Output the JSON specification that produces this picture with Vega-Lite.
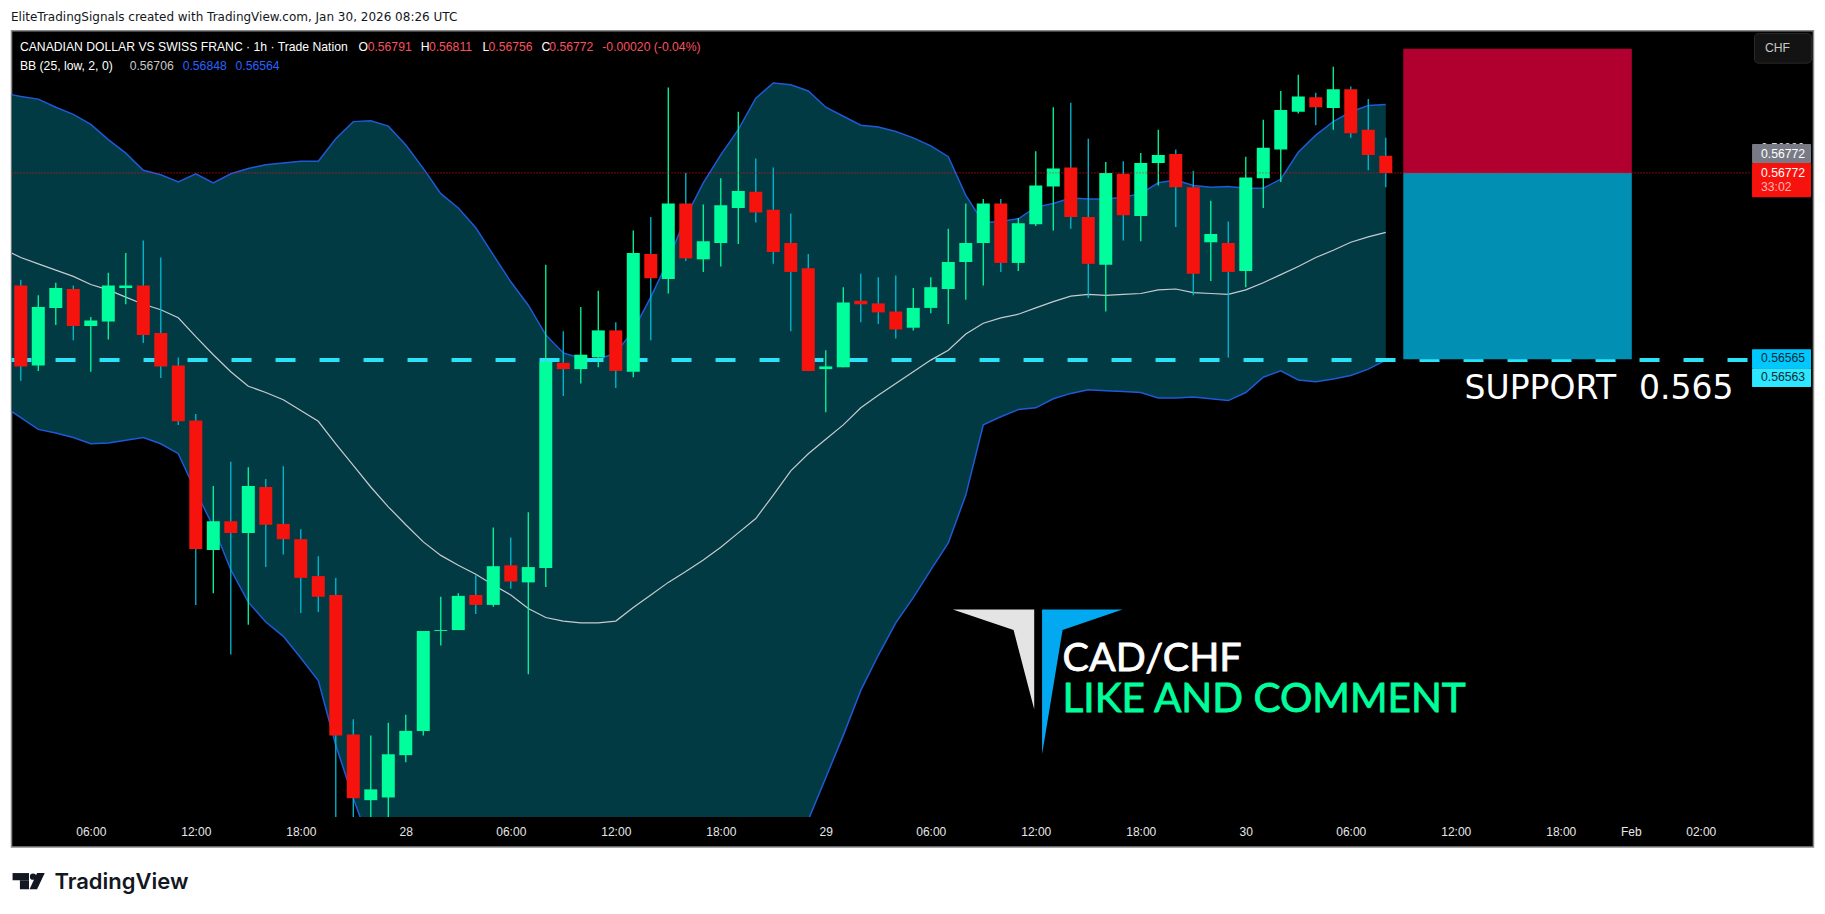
{
  "$schema": "https://vega.github.io/schema/vega-lite/v6.json",
  "autosize": "none",
  "width": 1739.5,
  "height": 786,
  "padding": {"left": 11.5, "top": 31, "right": 74, "bottom": 97},
  "background": "#ffffff",
  "config": {"view": {"stroke": null}},
  "datasets": {
    "frame": [{"t": -4.53, "t2": 98.44, "p": 0.5693, "p2": 0.56023}],
    "hiddenTick": [{"t": 95.44, "p": 0.568, "text": "0.56800"}],
    "candles": [
      {"t":-4,"o":0.56647,"h":0.56653,"l":0.56541,"c":0.56557},
      {"t":-3,"o":0.56558,"h":0.56636,"l":0.56552,"c":0.56623},
      {"t":-2,"o":0.56622,"h":0.5665,"l":0.56603,"c":0.56644},
      {"t":-1,"o":0.56643,"h":0.56647,"l":0.56586,"c":0.56602},
      {"t":0,"o":0.56602,"h":0.56612,"l":0.56551,"c":0.56608},
      {"t":1,"o":0.56607,"h":0.56661,"l":0.56587,"c":0.56647},
      {"t":2,"o":0.56644,"h":0.56683,"l":0.56626,"c":0.56647},
      {"t":3,"o":0.56647,"h":0.56697,"l":0.56583,"c":0.56592},
      {"t":4,"o":0.56594,"h":0.56678,"l":0.56544,"c":0.56557},
      {"t":5,"o":0.56558,"h":0.56567,"l":0.56492,"c":0.56496},
      {"t":6,"o":0.56497,"h":0.56504,"l":0.56292,"c":0.56354},
      {"t":7,"o":0.56353,"h":0.56424,"l":0.56305,"c":0.56385},
      {"t":8,"o":0.56385,"h":0.56451,"l":0.56237,"c":0.56372},
      {"t":9,"o":0.56372,"h":0.56445,"l":0.5627,"c":0.56424},
      {"t":10,"o":0.56423,"h":0.56432,"l":0.56334,"c":0.56381},
      {"t":11,"o":0.56382,"h":0.56446,"l":0.56348,"c":0.56365},
      {"t":12,"o":0.56365,"h":0.56376,"l":0.56283,"c":0.56322},
      {"t":13,"o":0.56324,"h":0.56346,"l":0.56284,"c":0.56301},
      {"t":14,"o":0.56303,"h":0.56322,"l":0.56042,"c":0.56147},
      {"t":15,"o":0.56148,"h":0.56165,"l":0.5604,"c":0.56077},
      {"t":16,"o":0.56075,"h":0.56147,"l":0.56045,"c":0.56087},
      {"t":17,"o":0.56078,"h":0.56161,"l":0.5604,"c":0.56126},
      {"t":18,"o":0.56125,"h":0.5617,"l":0.56117,"c":0.56152},
      {"t":19,"o":0.56152,"h":0.56263,"l":0.56147,"c":0.56263},
      {"t":20,"o":0.56263,"h":0.56301,"l":0.56247,"c":0.56264},
      {"t":21,"o":0.56264,"h":0.56305,"l":0.56264,"c":0.56302},
      {"t":22,"o":0.56303,"h":0.56325,"l":0.56282,"c":0.56292},
      {"t":23,"o":0.56292,"h":0.56378,"l":0.5629,"c":0.56335},
      {"t":24,"o":0.56336,"h":0.56367,"l":0.5631,"c":0.56318},
      {"t":25,"o":0.56317,"h":0.56395,"l":0.56215,"c":0.56334},
      {"t":26,"o":0.56333,"h":0.5667,"l":0.56312,"c":0.56562},
      {"t":27,"o":0.56561,"h":0.56596,"l":0.56524,"c":0.56554},
      {"t":28,"o":0.56554,"h":0.56623,"l":0.56538,"c":0.5657},
      {"t":29,"o":0.56567,"h":0.56641,"l":0.56556,"c":0.56597},
      {"t":30,"o":0.56597,"h":0.56606,"l":0.56533,"c":0.56552},
      {"t":31,"o":0.56551,"h":0.56708,"l":0.56545,"c":0.56683},
      {"t":32,"o":0.56682,"h":0.56723,"l":0.56586,"c":0.56655},
      {"t":33,"o":0.56654,"h":0.56867,"l":0.56638,"c":0.56738},
      {"t":34,"o":0.56738,"h":0.56772,"l":0.56674,"c":0.56677},
      {"t":35,"o":0.56676,"h":0.56737,"l":0.56662,"c":0.56696},
      {"t":36,"o":0.56694,"h":0.56766,"l":0.56668,"c":0.56736},
      {"t":37,"o":0.56733,"h":0.5684,"l":0.56693,"c":0.56752},
      {"t":38,"o":0.56751,"h":0.56788,"l":0.56717,"c":0.56728},
      {"t":39,"o":0.56731,"h":0.56778,"l":0.56671,"c":0.56684},
      {"t":40,"o":0.56694,"h":0.56727,"l":0.56596,"c":0.56662},
      {"t":41,"o":0.56666,"h":0.56682,"l":0.56552,"c":0.56552},
      {"t":42,"o":0.56554,"h":0.56575,"l":0.56506,"c":0.56557},
      {"t":43,"o":0.56556,"h":0.56645,"l":0.56556,"c":0.56628},
      {"t":44,"o":0.5663,"h":0.5666,"l":0.56606,"c":0.56626},
      {"t":45,"o":0.56627,"h":0.56656,"l":0.56604,"c":0.56617},
      {"t":46,"o":0.56618,"h":0.56658,"l":0.56588,"c":0.56598},
      {"t":47,"o":0.566,"h":0.56644,"l":0.56597,"c":0.56622},
      {"t":48,"o":0.56622,"h":0.56656,"l":0.56616,"c":0.56645},
      {"t":49,"o":0.56643,"h":0.5671,"l":0.56604,"c":0.56673},
      {"t":50,"o":0.56673,"h":0.56738,"l":0.56631,"c":0.56694},
      {"t":51,"o":0.56694,"h":0.56743,"l":0.56647,"c":0.56738},
      {"t":52,"o":0.56738,"h":0.56743,"l":0.56662,"c":0.56672},
      {"t":53,"o":0.56672,"h":0.56722,"l":0.56663,"c":0.56716},
      {"t":54,"o":0.56715,"h":0.56796,"l":0.56713,"c":0.56758},
      {"t":55,"o":0.56757,"h":0.56845,"l":0.56708,"c":0.56777},
      {"t":56,"o":0.56778,"h":0.5685,"l":0.5671,"c":0.56723},
      {"t":57,"o":0.56723,"h":0.5681,"l":0.56633,"c":0.56671},
      {"t":58,"o":0.5667,"h":0.56784,"l":0.56618,"c":0.56772},
      {"t":59,"o":0.56771,"h":0.56785,"l":0.56697,"c":0.56725},
      {"t":60,"o":0.56724,"h":0.56794,"l":0.56696,"c":0.56783},
      {"t":61,"o":0.56783,"h":0.5682,"l":0.56758,"c":0.56792},
      {"t":62,"o":0.56793,"h":0.56798,"l":0.56712,"c":0.56756},
      {"t":63,"o":0.56756,"h":0.56774,"l":0.56636,"c":0.5666},
      {"t":64,"o":0.56695,"h":0.56741,"l":0.56652,"c":0.56704},
      {"t":65,"o":0.56694,"h":0.56718,"l":0.56567,"c":0.56662},
      {"t":66,"o":0.56663,"h":0.5679,"l":0.56645,"c":0.56767},
      {"t":67,"o":0.56766,"h":0.56831,"l":0.56733,"c":0.568},
      {"t":68,"o":0.56798,"h":0.56863,"l":0.56762,"c":0.56842},
      {"t":69,"o":0.5684,"h":0.56881,"l":0.56838,"c":0.56857},
      {"t":70,"o":0.56856,"h":0.56861,"l":0.56825,"c":0.56845},
      {"t":71,"o":0.56844,"h":0.5689,"l":0.5682,"c":0.56865},
      {"t":72,"o":0.56865,"h":0.56868,"l":0.56811,"c":0.56816},
      {"t":73,"o":0.5682,"h":0.56854,"l":0.56775,"c":0.56792},
      {"t":74,"o":0.56791,"h":0.56811,"l":0.56756,"c":0.56772}
    ],
    "bands": [
      {"t":-4.53,"upper":0.56859,"basis":0.56683,"lower":0.56507},
      {"t":-4,"upper":0.56857,"basis":0.56678,"lower":0.565},
      {"t":-3,"upper":0.56854,"basis":0.56671,"lower":0.56487},
      {"t":-2,"upper":0.56845,"basis":0.56664,"lower":0.56483},
      {"t":-1,"upper":0.56837,"basis":0.56657,"lower":0.56478},
      {"t":0,"upper":0.56826,"basis":0.56648,"lower":0.56471},
      {"t":1,"upper":0.56809,"basis":0.56642,"lower":0.56472},
      {"t":2,"upper":0.56794,"basis":0.56634,"lower":0.56475},
      {"t":3,"upper":0.56775,"basis":0.56626,"lower":0.56478},
      {"t":4,"upper":0.5677,"basis":0.5662,"lower":0.56471},
      {"t":5,"upper":0.56762,"basis":0.56611,"lower":0.5646},
      {"t":6,"upper":0.56771,"basis":0.5659,"lower":0.56418},
      {"t":7,"upper":0.56761,"basis":0.5657,"lower":0.56379},
      {"t":8,"upper":0.56771,"basis":0.56551,"lower":0.56331},
      {"t":9,"upper":0.56777,"basis":0.56535,"lower":0.56295},
      {"t":10,"upper":0.56781,"basis":0.56528,"lower":0.56273},
      {"t":11,"upper":0.56783,"basis":0.5652,"lower":0.56257},
      {"t":12,"upper":0.56785,"basis":0.56508,"lower":0.56233},
      {"t":13,"upper":0.56785,"basis":0.56496,"lower":0.56208},
      {"t":14,"upper":0.5681,"basis":0.56471,"lower":0.56136},
      {"t":15,"upper":0.56829,"basis":0.56447,"lower":0.56077},
      {"t":16,"upper":0.5683,"basis":0.56423,"lower":0.56024},
      {"t":17,"upper":0.56824,"basis":0.56401,"lower":0.55986},
      {"t":18,"upper":0.56803,"basis":0.56381,"lower":0.5597},
      {"t":19,"upper":0.56777,"basis":0.56362,"lower":0.55955},
      {"t":20,"upper":0.56749,"basis":0.56347,"lower":0.55945},
      {"t":21,"upper":0.56733,"basis":0.56336,"lower":0.55935},
      {"t":22,"upper":0.56711,"basis":0.56326,"lower":0.55935},
      {"t":23,"upper":0.56681,"basis":0.56314,"lower":0.55935},
      {"t":24,"upper":0.56651,"basis":0.56303,"lower":0.55935},
      {"t":25,"upper":0.56625,"basis":0.56288,"lower":0.55935},
      {"t":26,"upper":0.56592,"basis":0.56278,"lower":0.55935},
      {"t":27,"upper":0.56572,"basis":0.56274,"lower":0.55935},
      {"t":28,"upper":0.56566,"basis":0.56272,"lower":0.55935},
      {"t":29,"upper":0.56565,"basis":0.56272,"lower":0.55935},
      {"t":30,"upper":0.56572,"basis":0.56274,"lower":0.55935},
      {"t":31,"upper":0.56597,"basis":0.56289,"lower":0.55935},
      {"t":32,"upper":0.56634,"basis":0.56303,"lower":0.55935},
      {"t":33,"upper":0.56675,"basis":0.56317,"lower":0.55935},
      {"t":34,"upper":0.56723,"basis":0.56329,"lower":0.55935},
      {"t":35,"upper":0.56761,"basis":0.56342,"lower":0.55935},
      {"t":36,"upper":0.56792,"basis":0.56356,"lower":0.55935},
      {"t":37,"upper":0.5682,"basis":0.56372,"lower":0.55935},
      {"t":38,"upper":0.56855,"basis":0.56388,"lower":0.55935},
      {"t":39,"upper":0.56872,"basis":0.56414,"lower":0.5595},
      {"t":40,"upper":0.5687,"basis":0.56441,"lower":0.56},
      {"t":41,"upper":0.56863,"basis":0.5646,"lower":0.56053},
      {"t":42,"upper":0.56845,"basis":0.56476,"lower":0.561},
      {"t":43,"upper":0.56835,"basis":0.56492,"lower":0.56147},
      {"t":44,"upper":0.56825,"basis":0.56511,"lower":0.56197},
      {"t":45,"upper":0.56823,"basis":0.56525,"lower":0.56236},
      {"t":46,"upper":0.56818,"basis":0.56538,"lower":0.56272},
      {"t":47,"upper":0.56811,"basis":0.56551,"lower":0.563},
      {"t":48,"upper":0.56802,"basis":0.56564,"lower":0.56331},
      {"t":49,"upper":0.5679,"basis":0.56575,"lower":0.56361},
      {"t":50,"upper":0.56747,"basis":0.56593,"lower":0.56414},
      {"t":51,"upper":0.56717,"basis":0.56605,"lower":0.56492},
      {"t":52,"upper":0.56718,"basis":0.56611,"lower":0.56501},
      {"t":53,"upper":0.56721,"basis":0.56615,"lower":0.56509},
      {"t":54,"upper":0.56734,"basis":0.56622,"lower":0.56511},
      {"t":55,"upper":0.56738,"basis":0.56629,"lower":0.56521},
      {"t":56,"upper":0.56744,"basis":0.56635,"lower":0.56527},
      {"t":57,"upper":0.56743,"basis":0.56637,"lower":0.56531},
      {"t":58,"upper":0.56743,"basis":0.56636,"lower":0.5653},
      {"t":59,"upper":0.56745,"basis":0.56637,"lower":0.56529},
      {"t":60,"upper":0.56749,"basis":0.56638,"lower":0.56528},
      {"t":61,"upper":0.56761,"basis":0.56642,"lower":0.56522},
      {"t":62,"upper":0.56764,"basis":0.56643,"lower":0.56522},
      {"t":63,"upper":0.56758,"basis":0.56639,"lower":0.56523},
      {"t":64,"upper":0.56756,"basis":0.56638,"lower":0.56521},
      {"t":65,"upper":0.56757,"basis":0.56637,"lower":0.56519},
      {"t":66,"upper":0.56755,"basis":0.56642,"lower":0.56528},
      {"t":67,"upper":0.56755,"basis":0.5665,"lower":0.56545},
      {"t":68,"upper":0.56765,"basis":0.56659,"lower":0.56552},
      {"t":69,"upper":0.56795,"basis":0.56668,"lower":0.56542},
      {"t":70,"upper":0.56814,"basis":0.56678,"lower":0.5654},
      {"t":71,"upper":0.56829,"basis":0.56686,"lower":0.56543},
      {"t":72,"upper":0.5684,"basis":0.56695,"lower":0.56547},
      {"t":73,"upper":0.56847,"basis":0.56701,"lower":0.56554},
      {"t":74,"upper":0.56848,"basis":0.56706,"lower":0.56564}
    ],
    "support": [{"t": -4.53, "t2": 94.8, "p": 0.56564}],
    "lastPrice": [{"t": -4.53, "t2": 94.8, "p": 0.56772}],
    "position": [
      {"t": 75, "t2": 88.06, "p": 0.5691, "p2": 0.56772, "zone": "stop"},
      {"t": 75, "t2": 88.06, "p": 0.56772, "p2": 0.56565, "zone": "target"}
    ],
    "tags": [
      {"t": 94.93, "t2": 98.3, "p": 0.56804, "p2": 0.56783, "tag": "close"},
      {"t": 94.93, "t2": 98.3, "p": 0.56783, "p2": 0.56745, "tag": "last"},
      {"t": 94.93, "t2": 98.3, "p": 0.56576, "p2": 0.56555, "tag": "line"},
      {"t": 94.93, "t2": 98.3, "p": 0.56555, "p2": 0.56534, "tag": "lowerBand"}
    ],
    "currency": [{"t": 95.07, "t2": 98.32, "p": 0.56927, "p2": 0.56894}],
    "header": [{"t": -4.56, "p": 0.56945, "text": "EliteTradingSignals created with TradingView.com, Jan 30, 2026 08:26 UTC"}],
    "labels": [
      {"t": -4.05, "p": 0.56912, "text": "CANADIAN DOLLAR VS SWISS FRANC · 1h · Trade Nation", "tone": "white"},
      {"t": 15.3, "p": 0.56912, "text": "O", "tone": "white"},
      {"t": 15.82, "p": 0.56912, "text": "0.56791", "tone": "red"},
      {"t": 18.85, "p": 0.56912, "text": "H", "tone": "white"},
      {"t": 19.32, "p": 0.56912, "text": "0.56811", "tone": "red"},
      {"t": 22.39, "p": 0.56912, "text": "L", "tone": "white"},
      {"t": 22.73, "p": 0.56912, "text": "0.56756", "tone": "red"},
      {"t": 25.75, "p": 0.56912, "text": "C", "tone": "white"},
      {"t": 26.2, "p": 0.56912, "text": "0.56772", "tone": "red"},
      {"t": 29.23, "p": 0.56912, "text": "-0.00020 (-0.04%)", "tone": "red"},
      {"t": -4.05, "p": 0.56891, "text": "BB (25, low, 2, 0)", "tone": "white"},
      {"t": 2.22, "p": 0.56891, "text": "0.56706", "tone": "grey"},
      {"t": 5.25, "p": 0.56891, "text": "0.56848", "tone": "blue"},
      {"t": 8.27, "p": 0.56891, "text": "0.56564", "tone": "blue"},
      {"t": 95.67, "p": 0.56911, "text": "CHF", "tone": "grey"},
      {"t": 95.44, "p": 0.56793, "text": "0.56772", "tone": "white"},
      {"t": 95.44, "p": 0.56772, "text": "0.56772", "tone": "white"},
      {"t": 95.44, "p": 0.56756, "text": "33:02", "tone": "pink"},
      {"t": 95.44, "p": 0.56566, "text": "0.56565", "tone": "dark"},
      {"t": 95.44, "p": 0.56545, "text": "0.56563", "tone": "dark"}
    ],
    "supportLabel": [
      {"t": 78.5, "p": 0.56532, "text": "SUPPORT"},
      {"t": 88.47, "p": 0.56532, "text": "0.565"}
    ],
    "pairLabel": [{"t": 55.53, "p": 0.56232, "text": "CAD/CHF"}],
    "callLabel": [{"t": 55.53, "p": 0.56186, "text": "LIKE AND COMMENT"}],
    "logoLeft": [
      {"t": 49.26, "p": 0.56287, "p2": 0.56287},
      {"t": 52.73, "p": 0.56287, "p2": 0.56264},
      {"t": 53.91, "p": 0.56287, "p2": 0.56176}
    ],
    "logoRight": [
      {"t": 54.36, "p": 0.56287, "p2": 0.56126},
      {"t": 55.53, "p": 0.56287, "p2": 0.56264},
      {"t": 58.96, "p": 0.56287, "p2": 0.56287}
    ],
    "brandBars": [
      {"t": -4.47, "t2": -3.53, "p": 0.55994, "p2": 0.55986},
      {"t": -4.05, "t2": -3.53, "p": 0.55986, "p2": 0.55976}
    ],
    "brandDot": [{"t": -3.3, "p": 0.5599}],
    "brandSlash": [
      {"t": -3.5, "p": 0.55976, "p2": 0.55976},
      {"t": -3.07, "p": 0.55994, "p2": 0.55976},
      {"t": -2.63, "p": 0.55994, "p2": 0.55994}
    ],
    "brand": [{"t": -2.08, "p": 0.55984, "text": "TradingView"}]
  },
  "encoding": {
    "x": {
      "field": "t",
      "type": "quantitative",
      "scale": {"domain": [-4.531, 94.87], "nice": false, "padding": 0},
      "axis": {
        "title": null,
        "grid": false,
        "domain": false,
        "ticks": false,
        "values": [0, 6, 12, 18, 24, 30, 36, 42, 48, 54, 60, 66, 72, 78, 84, 88, 92],
        "labelExpr": "{'0':'06:00','6':'12:00','12':'18:00','18':'28','24':'06:00','30':'12:00','36':'18:00','42':'29','48':'06:00','54':'12:00','60':'18:00','66':'30','72':'06:00','78':'12:00','84':'18:00','88':'Feb','92':'02:00'}[datum.value]",
        "labelColor": "#e8e8e8",
        "labelFont": "Liberation Sans",
        "labelFontSize": 12,
        "labelPadding": 9,
        "zindex": 1
      }
    },
    "y": {
      "field": "p",
      "type": "quantitative",
      "scale": {"domain": [0.560563, 0.569297], "nice": false},
      "axis": {
        "title": null,
        "orient": "right",
        "grid": false,
        "domain": false,
        "ticks": false,
        "values": [0.561, 0.5615, 0.562, 0.5625, 0.563, 0.5635, 0.564, 0.5645, 0.565, 0.566, 0.5665, 0.567, 0.5685],
        "format": ".5f",
        "labelColor": "#d8d8d8",
        "labelFont": "Liberation Sans",
        "labelFontSize": 12,
        "labelPadding": 10,
        "zindex": 1
      }
    }
  },
  "resolve": {"scale": {"color": "independent"}},
  "layer": [
    {
      "data": {"name": "frame"},
      "mark": {"type": "rect", "fill": "#000000", "stroke": "#8a8a8a", "strokeWidth": 1.5},
      "encoding": {"x2": {"field": "t2"}, "y2": {"field": "p2"}}
    },
    {
      "data": {"name": "hiddenTick"},
      "mark": {"type": "text", "align": "left", "baseline": "middle", "font": "Liberation Sans", "fontSize": 12, "color": "#d8d8d8"},
      "encoding": {"text": {"field": "text"}}
    },
    {
      "data": {"name": "bands"},
      "mark": {"type": "area", "color": "#013a43", "clip": true},
      "encoding": {
        "y": {"field": "upper", "type": "quantitative", "axis": null, "scale": {"domain": [0.560563, 0.569297], "nice": false}},
        "y2": {"field": "lower"}
      }
    },
    {
      "data": {"name": "bands"},
      "mark": {"type": "line", "color": "#c8cad0", "strokeWidth": 1.2, "clip": true},
      "encoding": {
        "y": {"field": "basis", "type": "quantitative", "axis": null, "scale": {"domain": [0.560563, 0.569297], "nice": false}}
      }
    },
    {
      "data": {"name": "bands"},
      "mark": {"type": "line", "color": "#1f5ad6", "strokeWidth": 1.5, "clip": true},
      "encoding": {
        "y": {"field": "upper", "type": "quantitative", "axis": null, "scale": {"domain": [0.560563, 0.569297], "nice": false}}
      }
    },
    {
      "data": {"name": "bands"},
      "mark": {"type": "line", "color": "#1f5ad6", "strokeWidth": 1.5, "clip": true},
      "encoding": {
        "y": {"field": "lower", "type": "quantitative", "axis": null, "scale": {"domain": [0.560563, 0.569297], "nice": false}}
      }
    },
    {
      "data": {"name": "support"},
      "mark": {"type": "rule", "color": "#2be2f7", "strokeWidth": 4, "strokeDash": [20, 24]},
      "encoding": {"x2": {"field": "t2"}}
    },
    {
      "data": {"name": "position"},
      "mark": {"type": "rect"},
      "encoding": {
        "x2": {"field": "t2"},
        "y2": {"field": "p2"},
        "color": {"field": "zone", "type": "nominal", "legend": null, "scale": {"domain": ["stop", "target"], "range": ["#b10030", "#018fb3"]}}
      }
    },
    {
      "data": {"name": "candles"},
      "mark": {"type": "rule", "strokeWidth": 1.3, "clip": true},
      "encoding": {
        "y": {"field": "l", "type": "quantitative", "axis": null, "scale": {"domain": [0.560563, 0.569297], "nice": false}},
        "y2": {"field": "h"},
        "color": {"condition": {"test": "datum.c >= datum.o", "value": "#00ff9c"}, "value": "#00bcd4"}
      }
    },
    {
      "data": {"name": "candles"},
      "mark": {"type": "bar", "size": 13, "clip": true},
      "encoding": {
        "y": {"field": "o", "type": "quantitative", "axis": null, "scale": {"domain": [0.560563, 0.569297], "nice": false}},
        "y2": {"field": "c"},
        "color": {"condition": {"test": "datum.c >= datum.o", "value": "#00ff9c"}, "value": "#f7130d"}
      }
    },
    {
      "data": {"name": "lastPrice"},
      "mark": {"type": "rule", "color": "#f7130d", "strokeWidth": 1, "strokeDash": [1, 2]},
      "encoding": {"x2": {"field": "t2"}}
    },
    {
      "data": {"name": "tags"},
      "mark": {"type": "rect", "cornerRadius": 1},
      "encoding": {
        "x2": {"field": "t2"},
        "y2": {"field": "p2"},
        "color": {"field": "tag", "type": "nominal", "legend": null, "scale": {"domain": ["close", "last", "line", "lowerBand"], "range": ["#787b86", "#f7130d", "#00c8ff", "#2de6ff"]}}
      }
    },
    {
      "data": {"name": "currency"},
      "mark": {"type": "rect", "fill": "#131313", "stroke": "#2a2a2a", "cornerRadius": 4},
      "encoding": {"x2": {"field": "t2"}, "y2": {"field": "p2"}}
    },
    {
      "data": {"name": "header"},
      "mark": {"type": "text", "align": "left", "baseline": "middle", "font": "DejaVu Sans", "fontSize": 12, "color": "#131722"},
      "encoding": {"text": {"field": "text"}}
    },
    {
      "data": {"name": "labels"},
      "mark": {"type": "text", "align": "left", "baseline": "middle", "font": "Liberation Sans", "fontSize": 12.2},
      "encoding": {
        "text": {"field": "text"},
        "color": {"field": "tone", "type": "nominal", "legend": null, "scale": {"domain": ["white", "red", "grey", "blue", "pink", "dark"], "range": ["#ffffff", "#f7525f", "#c8c8c8", "#2962ff", "#ffb3b3", "#0a2a33"]}}
      }
    },
    {
      "data": {"name": "supportLabel"},
      "mark": {"type": "text", "align": "left", "baseline": "middle", "font": "DejaVu Sans", "fontSize": 33, "color": "#ffffff"},
      "encoding": {"text": {"field": "text"}}
    },
    {
      "data": {"name": "logoLeft"},
      "mark": {"type": "area", "color": "#e4e4e4"},
      "encoding": {"y2": {"field": "p2"}}
    },
    {
      "data": {"name": "logoRight"},
      "mark": {"type": "area", "color": "#03a9f0"},
      "encoding": {"y2": {"field": "p2"}}
    },
    {
      "data": {"name": "pairLabel"},
      "mark": {"type": "text", "align": "left", "baseline": "middle", "font": "Lato", "fontSize": 39.5, "color": "#ffffff", "stroke": "#ffffff", "strokeWidth": 0.8},
      "encoding": {"text": {"field": "text"}}
    },
    {
      "data": {"name": "callLabel"},
      "mark": {"type": "text", "align": "left", "baseline": "middle", "font": "Lato", "fontSize": 40.5, "color": "#00ff9c", "stroke": "#00ff9c", "strokeWidth": 0.8},
      "encoding": {"text": {"field": "text"}}
    },
    {
      "data": {"name": "brandBars"},
      "mark": {"type": "rect", "color": "#131722"},
      "encoding": {"x2": {"field": "t2"}, "y2": {"field": "p2"}}
    },
    {
      "data": {"name": "brandDot"},
      "mark": {"type": "point", "filled": true, "opacity": 1, "color": "#131722", "size": 40},
      "encoding": {}
    },
    {
      "data": {"name": "brandSlash"},
      "mark": {"type": "area", "color": "#131722"},
      "encoding": {"y2": {"field": "p2"}}
    },
    {
      "data": {"name": "brand"},
      "mark": {"type": "text", "align": "left", "baseline": "middle", "font": "Inter", "fontSize": 22, "fontWeight": 600, "color": "#131722"},
      "encoding": {"text": {"field": "text"}}
    }
  ]
}
